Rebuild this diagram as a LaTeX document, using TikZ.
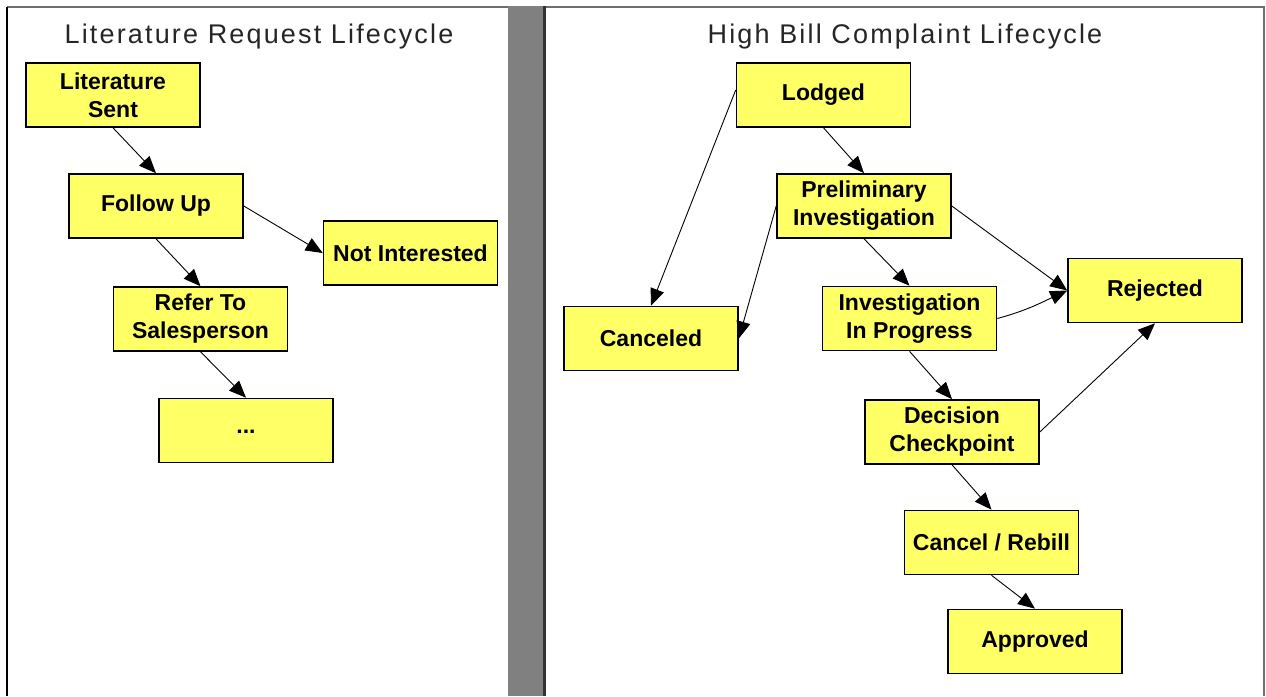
\documentclass[tikz,border=0pt]{standalone}
\usepackage{fontspec}
\setmainfont{Liberation Sans}
\usetikzlibrary{arrows.meta}
\definecolor{boxyellow}{HTML}{FFFF66}
\definecolor{bargray}{HTML}{808080}
\definecolor{framegray}{HTML}{6E6E6E}
\begin{document}
\begin{tikzpicture}[x=1pt,y=-1pt,
  state/.style={draw=black, line width=1.6pt, fill=boxyellow, minimum width=174pt, minimum height=64pt, inner sep=0pt, align=center, font=\fontsize{23}{28}\selectfont\bfseries},
  flow/.style={-{Triangle[length=17pt,width=14pt]}, line width=0.9pt, black},
  paneltitle/.style={font=\fontsize{27}{32}\selectfont\addfontfeature{LetterSpace=8}, text=black!85, inner sep=0pt}]
\fill[white] (0,0) rectangle (1266,696);
\useasboundingbox (0,0) rectangle (1266,696);
% frames
\draw[framegray, line width=2pt] (7,7) -- (508,7);
\draw[black, line width=2pt] (7,7) -- (7,696);
\fill[bargray] (508,6) rectangle (543,696);
\fill[black!80] (543,6) rectangle (546,696);
\draw[framegray, line width=2pt] (546,7) -- (1264,7) -- (1264,696);
% titles
\node[paneltitle] (t1) at (259,37) {Literature Request Lifecycle};
\node[paneltitle] (t2) at (905,37) {High Bill Complaint Lifecycle};
% left lifecycle
\node[state] (lit) at (113,95) {Literature\\Sent};
\node[state] (follow) at (156,206) {Follow Up};
\node[state] (notint) at (410.5,253) {Not Interested};
\node[state] (refer) at (200.5,319) {Refer To\\Salesperson};
\node[state] (dots) at (246,430.5) {\raisebox{-6pt}{...}};
% right lifecycle
\node[state] (lodged) at (823.5,95) {Lodged};
\node[state] (prelim) at (864,206) {Preliminary\\Investigation};
\node[state] (canceled) at (651,338.5) {Canceled};
\node[state] (invest) at (909.5,318.5) {Investigation\\In Progress};
\node[state] (rejected) at (1155,290.5) {Rejected};
\node[state] (decision) at (952,432) {Decision\\Checkpoint};
\node[state] (rebill) at (991.5,542.5) {Cancel / Rebill};
\node[state] (approved) at (1035,641.5) {Approved};
% connectors
\draw[flow] (lit.south) -- (follow.north);
\draw[flow] (follow.east) -- (notint.west);
\draw[flow] (follow.south) -- (refer.north);
\draw[flow] (refer.south) -- (dots.north);
\draw[flow] (lodged.south) -- (prelim.north);
\draw[flow] ([yshift=5pt]lodged.west) -- (canceled.north);
\draw[flow] (prelim.west) -- (canceled.east);
\draw[flow] (prelim.south) -- (invest.north);
\draw[flow] (prelim.east) -- (rejected.west);
\draw[flow] (invest.east) to[out=15,in=205] (rejected.west);
\draw[flow] (invest.south) -- (decision.north);
\draw[flow] (decision.east) -- (rejected.south);
\draw[flow] (decision.south) -- (rebill.north);
\draw[flow] (rebill.south) -- (approved.north);
\end{tikzpicture}
\end{document}
